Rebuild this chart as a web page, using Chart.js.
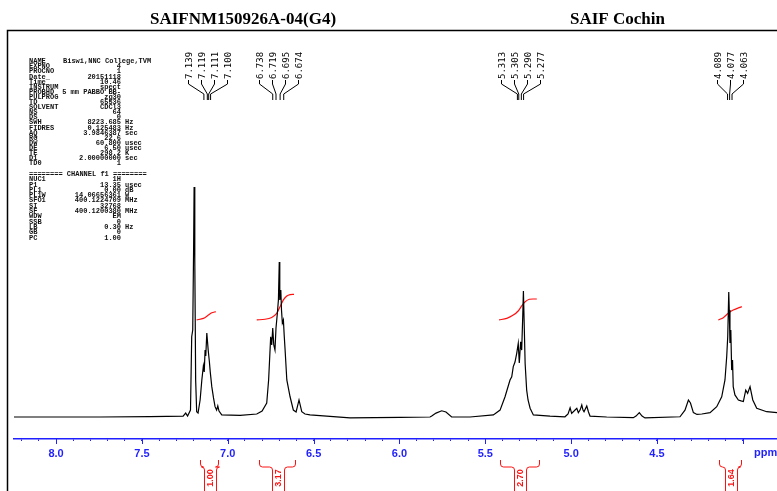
<!DOCTYPE html>
<html>
<head>
    <title>SAIFNM150926A-04(G4)</title>
    <script src="https://cdn.jsdelivr.net/npm/chart.js"></script>
    <style>
        body { margin: 0; background: #fff; }
        canvas { display: block; }
    </style>
</head>
<body>
    <canvas id="nmr" width="777" height="491"></canvas>

    <script>
        // 谱图数据 (ppm, 相对强度)
        var spectrumPpm = [8.245, 7.744, 7.453, 7.260, 7.245, 7.234, 7.217, 7.210, 7.204, 7.199, 7.196, 7.192, 7.187, 7.181, 7.173,
            7.161, 7.151, 7.142, 7.137, 7.132, 7.128, 7.122, 7.114, 7.107, 7.102, 7.093, 7.083, 7.074, 7.065, 7.058, 7.051, 7.035,
            6.928, 6.831, 6.800, 6.773, 6.762, 6.750, 6.744, 6.738, 6.732, 6.725, 6.719, 6.711, 6.705, 6.700, 6.697, 6.691, 6.687,
            6.682, 6.676, 6.671, 6.666, 6.656, 6.637, 6.618, 6.602, 6.585, 6.569, 6.550, 6.521, 6.288, 5.997, 5.822, 5.812, 5.787,
            5.754, 5.729, 5.696, 5.589, 5.453, 5.414, 5.385, 5.356, 5.346, 5.337, 5.327, 5.317, 5.308, 5.302, 5.294, 5.288, 5.282,
            5.278, 5.274, 5.268, 5.259, 5.251, 5.239, 5.220, 5.123, 5.036, 5.018, 5.006, 4.997, 4.983, 4.967, 4.958, 4.948, 4.938,
            4.931, 4.925, 4.909, 4.899, 4.890, 4.793, 4.638, 4.622, 4.603, 4.587, 4.570, 4.366, 4.337, 4.317, 4.305, 4.288, 4.267,
            4.239, 4.191, 4.152, 4.123, 4.104, 4.094, 4.088, 4.082, 4.079, 4.075, 4.070, 4.065, 4.060, 4.056, 4.046, 4.026, 4.010,
            3.997, 3.983, 3.972, 3.958, 3.942, 3.919, 3.861, 3.801];
        var spectrumInt = [0, 0, 0.2, 0.4, 1.7, 0.4, 3, 34.9, 37.8, 72.6, 100, 68.3, 16.1, 2.3, 1.7,
            7.4, 16.1, 22.2, 19.6, 29.1, 26.5, 36.5, 29.1, 24, 19.6, 13.2, 8.3, 4.5, 3.0, 4.8, 2.6, 0.9,
            0.7, 1.3, 2.6, 6.1, 16.1, 34.9, 31.3, 38.7, 31.3, 29.1, 38.7, 45.2, 50.9, 67.4, 50.9, 55.2, 46.5,
            40.9, 42.2, 35.2, 29.1, 16.1, 8.8, 3, 2.2, 7.4, 2.3, 1.3, 0.9, -0.4, -0.2, 0, 0.4, 1.7,
            2.7, 2.2, 0, 0, 0.9, 3, 8.8, 16.1, 17.5, 21.9, 23.9, 27.7, 32, 23.5, 32.7, 29.1, 43.6,
            54.8, 42.2, 23.3, 11.7, 7.4, 3.8, 0.9, 0.4, 0.1, 1.3, 4, 1.6, 2.6, 3.8, 1.9, 3, 5.2,
            3, 2.3, 4.8, 2.2, 0.4, 0, -0.3, 0.4, 1.9, 0.4, -0.4, 0.1, 3, 7.4, 6.1, 1.9, 1.1,
            1.3, 1.9, 4.5, 8.8, 16.1, 26.2, 34.9, 54.3, 46.5, 32.2, 37.8, 20.4, 24.8, 13.2, 9.6, 7.4, 7,
            6.7, 11.7, 10.3, 13.2, 7.4, 3.8, 2.3, 1.9];

        // 积分曲线
        var integral1Ppm = [7.181, 7.142, 7.113, 7.093, 7.070];
        var integral1Val = [42.2, 42.9, 44.3, 45.3, 45.8];
        var integral2Ppm = [6.831, 6.783, 6.744, 6.715, 6.695, 6.676, 6.656, 6.637, 6.614];
        var integral2Val = [42.2, 42.5, 43.3, 45.1, 48, 50.9, 52.6, 53.2, 53.3];
        var integral3Ppm = [5.420, 5.375, 5.337, 5.307, 5.288, 5.268, 5.243, 5.200];
        var integral3Val = [42.2, 42.9, 44.3, 46.2, 48.3, 50.1, 51.2, 51.3];
        var integral4Ppm = [4.143, 4.114, 4.085, 4.056, 4.006];
        var integral4Val = [42.2, 43.2, 45.1, 46.5, 48];

        // 积分区间与数值
        var integralRanges = [[7.163, 7.057], [6.818, 6.610], [5.415, 5.189], [4.140, 4.010]];
        var integralLabels = ['1.00', '3.17', '2.70', '1.64'];

        // 峰位标注
        var peakGroups = [
            [7.139, 7.119, 7.111, 7.100],
            [6.738, 6.719, 6.695, 6.674],
            [5.313, 5.305, 5.290, 5.277],
            [4.089, 4.077, 4.063]
        ];

        // 坐标轴
        var majorTicks = [8.0, 7.5, 7.0, 6.5, 6.0, 5.5, 5.0, 4.5, 4.0];
        var tickLabels = ['8.0', '7.5', '7.0', '6.5', '6.0', '5.5', '5.0', '4.5'];

        var titleLeft = 'SAIFNM150926A-04(G4)';
        var titleRight = 'SAIF Cochin';

        // 采集参数
        var acqNames = ['NAME', 'EXPNO', 'PROCNO', 'Date_', 'Time', 'INSTRUM', 'PROBHD', 'PULPROG', 'TD', 'SOLVENT', 'NS', 'DS',
            'SWH', 'FIDRES', 'AQ', 'RG', 'DW', 'DE', 'TE', 'D1', 'TD0'];
        var acqValues = ['', '4', '1', '20151118', '10.46', 'spect', '5 mm PABBO BB-', 'zg30', '65536', 'CDCl3', '64', '0',
            '8223.685', '0.125483', '3.9846387', '22.6', '60.800', '6.50', '298.2', '2.00000000', '1'];
        var acqUnits = ['', '', '', '', '', '', '', '', '', '', '', '', 'Hz', 'Hz', 'sec', '', 'usec', 'usec', 'K', 'sec', ''];
        var sampleName = 'Biswi,NNC College,TVM';
        var chanNames = ['NUC1', 'P1', 'PL1', 'PL1W', 'SFO1', 'SI', 'SF', 'WDW', 'SSB', 'LB', 'GB', 'PC'];
        var chanValues = ['1H', '13.35', '0.00', '14.06656361', '400.1224709', '32768', '400.1200380', 'EM', '0', '0.30', '0', '1.00'];
        var chanUnits = ['', 'usec', 'dB', 'W', 'MHz', '', 'MHz', '', '', 'Hz', '', ''];

        var axisBlue = '#1f1fff';
        var integralRed = '#ff1010';

        function pairs(xs, ys) {
            return xs.map(function(x, i) { return { x: x, y: ys[i] }; });
        }

        // 所有刻度 (0.1 ppm)
        var allTicks = [];
        for (var t = 82; t >= 40; t--) { allTicks.push(t / 10); }

        var nmrDecor = {
            id: 'nmrDecor',
            afterDraw: function(chart) {
                var ctx = chart.ctx;
                var xs = chart.scales.x;
                ctx.save();

                // 外框
                ctx.strokeStyle = '#000';
                ctx.lineWidth = 1.5;
                ctx.beginPath();
                ctx.moveTo(7.5, 491);
                ctx.lineTo(7.5, 30.5);
                ctx.lineTo(777, 30.5);
                ctx.stroke();

                // 标题
                ctx.fillStyle = '#000';
                ctx.font = 'bold 17px "Liberation Serif", "Times New Roman", serif';
                ctx.textAlign = 'left';
                ctx.textBaseline = 'alphabetic';
                ctx.fillText(titleLeft, 150, 24);
                ctx.fillText(titleRight, 570, 24);

                // 参数表
                ctx.fillStyle = '#111';
                ctx.font = 'bold 7px "Liberation Mono", "Courier New", monospace';
                ctx.textBaseline = 'middle';
                acqNames.forEach(function(n, i) {
                    var y = 61.5 + i * 5.1;
                    ctx.textAlign = 'left';
                    ctx.fillText(n, 29, y);
                    if (i === 0) {
                        ctx.fillText(sampleName, 63, y);
                    } else {
                        ctx.textAlign = 'right';
                        ctx.fillText(acqValues[i], 121, y);
                        ctx.textAlign = 'left';
                        ctx.fillText(acqUnits[i], 125, y);
                    }
                });
                ctx.textAlign = 'left';
                ctx.fillText('======== CHANNEL f1 ========', 29, 174);
                chanNames.forEach(function(n, i) {
                    var y = 179.5 + i * 5.3;
                    ctx.textAlign = 'left';
                    ctx.fillText(n, 29, y);
                    ctx.textAlign = 'right';
                    ctx.fillText(chanValues[i], 121, y);
                    ctx.textAlign = 'left';
                    ctx.fillText(chanUnits[i], 125, y);
                });

                // 主刻度
                ctx.strokeStyle = axisBlue;
                ctx.lineWidth = 1;
                majorTicks.forEach(function(v) {
                    var px = Math.round(xs.getPixelForValue(v)) + 0.5;
                    ctx.beginPath();
                    ctx.moveTo(px, xs.top);
                    ctx.lineTo(px, xs.top + 5);
                    ctx.stroke();
                });
                ctx.fillStyle = axisBlue;
                ctx.font = 'bold 11px "Liberation Sans", Arial, sans-serif';
                ctx.textAlign = 'left';
                ctx.textBaseline = 'middle';
                ctx.fillText('ppm', 754, 453);

                // 峰位标注
                ctx.fillStyle = '#000';
                ctx.strokeStyle = '#000';
                ctx.font = '9px "DejaVu Sans Mono", monospace';
                peakGroups.forEach(function(group) {
                    var sum = 0;
                    group.forEach(function(p) { sum += p; });
                    var cx = xs.getPixelForValue(sum / group.length);
                    group.forEach(function(p, i) {
                        var tx = Math.round(cx + (i - (group.length - 1) / 2) * 13) + 0.5;
                        var px = xs.getPixelForValue(p);
                        ctx.save();
                        ctx.translate(tx + 1, 79);
                        ctx.rotate(-Math.PI / 2);
                        ctx.textAlign = 'left';
                        ctx.textBaseline = 'middle';
                        ctx.fillText(p.toFixed(3), 0, 0);
                        ctx.restore();
                        ctx.beginPath();
                        ctx.moveTo(tx, 80);
                        ctx.lineTo(tx, 84);
                        ctx.lineTo(px, 94);
                        ctx.lineTo(px, 100);
                        ctx.stroke();
                    });
                });

                // 积分标注
                ctx.strokeStyle = integralRed;
                ctx.fillStyle = integralRed;
                ctx.font = 'bold 9px "Liberation Sans", Arial, sans-serif';
                integralRanges.forEach(function(r, k) {
                    var xl = Math.round(xs.getPixelForValue(r[0])) + 0.5;
                    var xr = Math.round(xs.getPixelForValue(r[1])) + 0.5;
                    var cx = Math.round((xl + xr) / 2) + 0.5;
                    ctx.beginPath();
                    ctx.moveTo(xl, 460);
                    ctx.lineTo(xl, 464);
                    ctx.quadraticCurveTo(xl, 467, xl + 3, 467);
                    ctx.lineTo(cx - 9, 467);
                    ctx.quadraticCurveTo(cx - 6, 467, cx - 6, 470);
                    ctx.lineTo(cx - 6, 491);
                    ctx.moveTo(xr, 460);
                    ctx.lineTo(xr, 464);
                    ctx.quadraticCurveTo(xr, 467, xr - 3, 467);
                    ctx.lineTo(cx + 9, 467);
                    ctx.quadraticCurveTo(cx + 6, 467, cx + 6, 470);
                    ctx.lineTo(cx + 6, 491);
                    ctx.stroke();
                    ctx.save();
                    ctx.translate(cx + 0.5, 478);
                    ctx.rotate(-Math.PI / 2);
                    ctx.textAlign = 'center';
                    ctx.textBaseline = 'middle';
                    ctx.fillText(integralLabels[k], 0, 0);
                    ctx.restore();
                });

                ctx.restore();
            }
        };

        var integralStyle = { borderColor: integralRed, borderWidth: 1.2, pointRadius: 0, tension: 0.3, fill: false };

        new Chart(document.getElementById('nmr').getContext('2d'), {
            type: 'line',
            data: {
                datasets: [
                    { label: 'spectrum', data: pairs(spectrumPpm, spectrumInt), borderColor: '#000', borderWidth: 1.2, pointRadius: 0, tension: 0, fill: false },
                    Object.assign({ label: 'int1', data: pairs(integral1Ppm, integral1Val) }, integralStyle),
                    Object.assign({ label: 'int2', data: pairs(integral2Ppm, integral2Val) }, integralStyle),
                    Object.assign({ label: 'int3', data: pairs(integral3Ppm, integral3Val) }, integralStyle),
                    Object.assign({ label: 'int4', data: pairs(integral4Ppm, integral4Val) }, integralStyle)
                ]
            },
            options: {
                responsive: false,
                animation: false,
                devicePixelRatio: 1,
                layout: { padding: { left: 14, top: 31, right: 0, bottom: 0 } },
                plugins: { legend: { display: false }, tooltip: { enabled: false } },
                scales: {
                    x: {
                        type: 'linear',
                        reverse: true,
                        min: 3.801,
                        max: 8.245,
                        afterBuildTicks: function(scale) {
                            scale.ticks = allTicks.map(function(v) { return { value: v }; });
                        },
                        afterFit: function(scale) { scale.height = 52; },
                        border: { display: true, color: axisBlue, width: 1.5 },
                        grid: { drawOnChartArea: false, drawTicks: true, tickLength: 2, tickColor: axisBlue, color: axisBlue },
                        ticks: {
                            autoSkip: false,
                            maxRotation: 0,
                            padding: 6,
                            color: axisBlue,
                            font: { family: '"Liberation Sans", Arial, sans-serif', size: 11, weight: 'bold' },
                            callback: function(value) {
                                var s = (Math.round(value * 10) / 10).toFixed(1);
                                return tickLabels.indexOf(s) >= 0 ? s : '';
                            }
                        }
                    },
                    y: {
                        display: false,
                        min: -9.565,
                        max: 167.83
                    }
                }
            },
            plugins: [nmrDecor]
        });
    </script>
</body>
</html>
